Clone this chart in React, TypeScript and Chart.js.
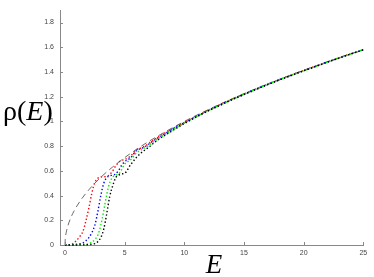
import React, { useEffect, useRef } from "react";
import { Chart, registerables } from "chart.js";

Chart.register(...registerables);

// Energy grid for the dotted curves
const E_GRID = [0, 0.5, 1, 1.25, 1.5, 1.75, 2, 2.25, 2.5, 2.75, 3, 3.25, 3.5, 3.75, 4, 4.25, 4.5, 4.75, 5, 5.5, 6, 6.5, 7, 7.5, 8, 9, 10, 11, 12, 13, 14, 15, 16, 17, 18, 19, 20, 21, 22, 23, 24, 25];

const RED = [0, 0.004, 0.04, 0.07, 0.11, 0.195, 0.30, 0.42, 0.505, 0.54, 0.55, 0.552, 0.556, 0.57, 0.60, 0.64, 0.67, 0.685, 0.692, 0.72, 0.77, 0.79, 0.82, 0.855, 0.885, 0.94, 0.992, 1.042, 1.09, 1.137, 1.18, 1.222, 1.262, 1.302, 1.34, 1.377, 1.412, 1.447, 1.482, 1.516, 1.549, 1.581];
const BLUE = [0, 0.001, 0.006, 0.01, 0.016, 0.035, 0.06, 0.10, 0.16, 0.27, 0.40, 0.50, 0.545, 0.56, 0.565, 0.575, 0.605, 0.645, 0.675, 0.705, 0.765, 0.785, 0.815, 0.85, 0.88, 0.937, 0.99, 1.04, 1.088, 1.135, 1.178, 1.22, 1.262, 1.30, 1.338, 1.375, 1.411, 1.446, 1.481, 1.515, 1.548, 1.58];
const GREEN = [0, 0, 0.002, 0.003, 0.004, 0.006, 0.01, 0.022, 0.045, 0.08, 0.16, 0.28, 0.41, 0.505, 0.55, 0.565, 0.575, 0.61, 0.655, 0.69, 0.745, 0.775, 0.805, 0.84, 0.872, 0.93, 0.986, 1.038, 1.087, 1.133, 1.177, 1.219, 1.26, 1.299, 1.337, 1.374, 1.41, 1.445, 1.48, 1.514, 1.548, 1.58];
const BLACK = [0, 0, 0, 0.001, 0.001, 0.002, 0.003, 0.005, 0.012, 0.027, 0.06, 0.13, 0.255, 0.395, 0.48, 0.545, 0.565, 0.575, 0.58, 0.65, 0.71, 0.755, 0.79, 0.83, 0.865, 0.925, 0.982, 1.035, 1.085, 1.13, 1.175, 1.217, 1.258, 1.298, 1.336, 1.373, 1.409, 1.444, 1.479, 1.513, 1.547, 1.579];

// Dashed smooth reference curve
const DASH_E = [0, 0.02, 0.1, 0.25, 0.5, 0.75, 1, 1.5, 2, 2.5, 3, 4, 5, 6, 7, 8, 10, 12, 14, 16, 18, 20, 22, 25];
const DASH_RHO = [0, 0.045, 0.1, 0.158, 0.224, 0.274, 0.316, 0.387, 0.447, 0.5, 0.548, 0.632, 0.707, 0.775, 0.837, 0.894, 1.0, 1.095, 1.183, 1.265, 1.342, 1.414, 1.483, 1.581];

const X_TICKS = [0, 5, 10, 15, 20, 25];
const Y_TICKS = [0, 0.2, 0.4, 0.6, 0.8, 1, 1.2, 1.4, 1.6, 1.8];

const pts = (xs: number[], ys: number[]) => xs.map((x, i) => ({ x, y: ys[i] }));

const decoPlugin = {
  id: "deco",
  afterDraw(chart: any) {
    const ctx = chart.ctx;
    const xs = chart.scales.x;
    const ys = chart.scales.y;
    const area = chart.chartArea;
    ctx.save();
    ctx.strokeStyle = "#888";
    ctx.lineWidth = 1;
    ctx.beginPath();
    X_TICKS.forEach((v) => {
      const px = Math.round(xs.getPixelForValue(v)) + 0.5;
      ctx.moveTo(px, area.bottom);
      ctx.lineTo(px, area.bottom - 3);
    });
    Y_TICKS.forEach((v) => {
      const py = Math.round(ys.getPixelForValue(v)) + 0.5;
      ctx.moveTo(area.left, py);
      ctx.lineTo(area.left + 3, py);
    });
    ctx.stroke();

    ctx.fillStyle = "#000";
    ctx.textBaseline = "alphabetic";
    // x-axis title
    ctx.font = 'italic 27px "Liberation Serif"';
    ctx.textAlign = "center";
    ctx.fillText("E", 214, 273);
    // y-axis title: ρ(E) with italic E
    ctx.textAlign = "left";
    let x = 3;
    const base = 119.5;
    ctx.font = '28px "Liberation Serif"';
    ctx.fillText("ρ(", x, base);
    x += ctx.measureText("ρ(").width;
    ctx.font = 'italic 28px "Liberation Serif"';
    ctx.fillText("E", x, base);
    x += ctx.measureText("E").width;
    ctx.font = '28px "Liberation Serif"';
    ctx.fillText(")", x, base);
    ctx.restore();
  },
};

export default function App() {
  const ref = useRef<HTMLCanvasElement>(null);
  useEffect(() => {
    if (!ref.current) return;
    const dotted = (data: number[], color: string) => ({
      data: pts(E_GRID, data),
      borderColor: color,
      borderWidth: 1.4,
      borderDash: [1.4, 2.2],
      pointRadius: 0,
      fill: false,
      cubicInterpolationMode: "monotone" as const,
      clip: false as any,
    });
    const chart = new Chart(ref.current, {
      type: "line",
      data: {
        datasets: [
          dotted(BLACK, "#000000"),
          dotted(GREEN, "#00ee00"),
          dotted(BLUE, "#0000ff"),
          dotted(RED, "#ff0000"),
          {
            data: pts(DASH_E, DASH_RHO),
            borderColor: "#444",
            borderWidth: 0.8,
            borderDash: [6, 4],
            pointRadius: 0,
            fill: false,
            cubicInterpolationMode: "monotone" as const,
          },
        ],
      },
      plugins: [decoPlugin],
      options: {
        animation: false,
        responsive: false,
        devicePixelRatio: 1,
        layout: { padding: { left: 0, right: 10.7, top: 4, bottom: 0 } },
        plugins: { legend: { display: false }, tooltip: { enabled: false } },
        scales: {
          x: {
            type: "linear",
            min: -0.42,
            max: 25,
            afterBuildTicks: (s: any) => {
              s.ticks = X_TICKS.map((v) => ({ value: v }));
            },
            afterFit: (s: any) => {
              s.height = 32;
            },
            grid: { display: true, drawOnChartArea: false, drawTicks: false },
            border: { display: true, color: "#888", width: 1 },
            ticks: {
              padding: 4,
              maxRotation: 0,
              autoSkip: false,
              color: "#444",
              font: { family: '"Liberation Sans", Arial', size: 7 },
              callback: (v: any) => String(v),
            },
          },
          y: {
            type: "linear",
            min: 0,
            max: 1.9,
            afterBuildTicks: (s: any) => {
              s.ticks = Y_TICKS.map((v) => ({ value: v }));
            },
            afterFit: (s: any) => {
              s.width = 60;
            },
            grid: { display: true, drawOnChartArea: false, drawTicks: false },
            border: { display: true, color: "#888", width: 1 },
            ticks: {
              padding: 6,
              autoSkip: false,
              color: "#444",
              font: { family: '"Liberation Sans", Arial', size: 7 },
              callback: (v: any) => String(Math.round(Number(v) * 10) / 10),
            },
          },
        },
      },
    });
    return () => chart.destroy();
  }, []);
  return (
    <div style={{ position: "absolute", left: 0, top: 0, width: 374, height: 277, background: "#fff" }}>
      <canvas ref={ref} width={374} height={277} />
    </div>
  );
}
